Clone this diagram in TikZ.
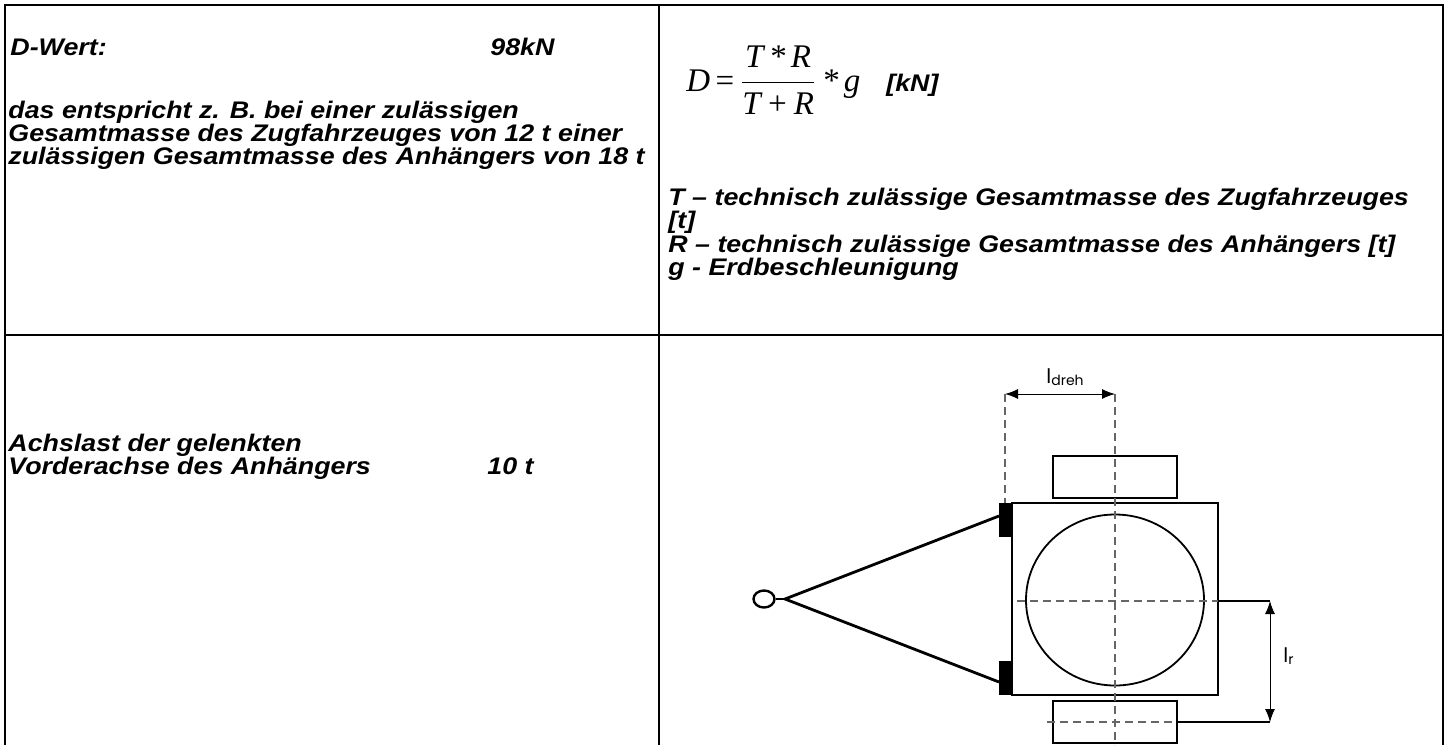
\documentclass[tikz,border=0pt]{standalone}
\usepackage{fontspec}
\setmainfont{Liberation Sans}
\newfontfamily\txtfont[FakeStretch=1.117]{Liberation Sans}
\newfontfamily\tnr{Liberation Serif}
\newfontfamily\lblfont{Poppins}
\usetikzlibrary{arrows.meta,shapes.geometric}
\begin{document}
\begin{tikzpicture}[x=0.5pt,y=-0.5pt,
  txt/.style={anchor=base west, inner sep=0pt, font=\txtfont\fontsize{12}{13}\selectfont\bfseries\itshape},
  gridline/.style={line width=1.1pt},
  dimline/.style={line width=0.5pt, {Latex[length=6.5pt,width=5pt]}-{Latex[length=6.5pt,width=5pt]}},
  axisline/.style={line width=0.6pt, black!60, dash pattern=on 4pt off 2.5pt},
  wheel/.style={line width=1.4pt},
  bar/.style={line width=1.4pt},
  thin/.style={line width=0.55pt},
  lbl/.style={inner sep=0pt, font=\lblfont\fontsize{10}{11}\selectfont},
]
\useasboundingbox (0,0) rectangle (1450,745);
% table grid
\coordinate (tl) at (5,5);
\coordinate (tr) at (1443,5);
\coordinate (tm) at (659,5);
\coordinate (bl) at (5,745);
\coordinate (bm) at (659,745);
\coordinate (br) at (1443,745);
\coordinate (ml) at (5,335);
\coordinate (mr) at (1443,335);
\draw[gridline] (bl) -- (tl) -- (tr) -- (br);
\draw[gridline] (tm) -- (bm);
\draw[gridline] (ml) -- (mr);

% top-left cell
\node[txt] (dw) at (10,55) {D-Wert:};
\node[txt] (dv) at (490,55) {98kN};
\node[txt] (l1) at (8,118) {das entspricht z. B. bei einer zulässigen};
\node[txt] (l2) at (8,141) {Gesamtmasse des Zugfahrzeuges von 12 t einer};
\node[txt] (l3) at (8,164) {zulässigen Gesamtmasse des Anhängers von 18 t};

% top-right cell
\node[anchor=base west, inner sep=0pt, font=\tnr\fontsize{16.5}{18}\selectfont] (fo) at (686,91)
  {\itshape D\,\upshape=\,$\displaystyle\frac{\hbox{\tnr\itshape T\,*\,R}}{\hbox{\tnr\itshape T\,+\,R}}$\,\itshape *\,g};
\node[txt] (kn) at (886,91) {[kN]};
\node[txt] (t1) at (668,205) {T – technisch zulässige Gesamtmasse des Zugfahrzeuges};
\node[txt] (t2) at (668,228) {[t]};
\node[txt] (t3) at (668,252) {R – technisch zulässige Gesamtmasse des Anhängers [t]};
\node[txt] (t4) at (668,275) {g - Erdbeschleunigung};

% bottom-left cell
\node[txt] (a1) at (8,451) {Achslast der gelenkten};
\node[txt] (a2) at (8,474) {Vorderachse des Anhängers};
\node[txt] (a3) at (487,474) {10 t};

% drawing
\node[ellipse, draw, line width=1.2pt, minimum width=10.5pt, minimum height=8.5pt, inner sep=0pt] (ring) at (764,599) {};
\coordinate (apex) at (785,599);
\coordinate (hu) at (999,516);
\coordinate (hd) at (999,682);
\draw[bar] (ring.east) -- (apex);
\draw[bar] (hu) -- (apex) -- (hd);
\fill (999,503) rectangle (1012,537);
\fill (999,661) rectangle (1012,695);
\draw[thin] (1012,503) rectangle (1218,695);
\draw[line width=0.9pt] (1115,600) ellipse [x radius=89, y radius=85.5];
\draw[wheel] (1053,456) rectangle (1177,498);
\draw[wheel] (1053,701) rectangle (1177,743);

\coordinate (da) at (1005,394);
\coordinate (db) at (1115,394);
\coordinate (ra) at (1270,601);
\coordinate (rb) at (1270,722);
\draw[axisline] (da) -- (1005,503);
\draw[axisline] (db) -- (1115,745);
\draw[axisline] (1017,601) -- (1218,601);
\draw[thin] (1218,601) -- (ra);
\draw[axisline] (1047,722) -- (1177,722);
\draw[thin] (1177,722) -- (rb);
\draw[dimline] (da) -- (db);
\draw[dimline] (ra) -- (rb);
\node[lbl, anchor=base west] (ldreh) at (1046,383) {l\raisebox{-1pt}{\fontsize{7}{8}\selectfont dreh}};
\node[lbl, anchor=base west] (lr) at (1283,662) {l\raisebox{-1pt}{\fontsize{7}{8}\selectfont r}};
\end{tikzpicture}
\end{document}
